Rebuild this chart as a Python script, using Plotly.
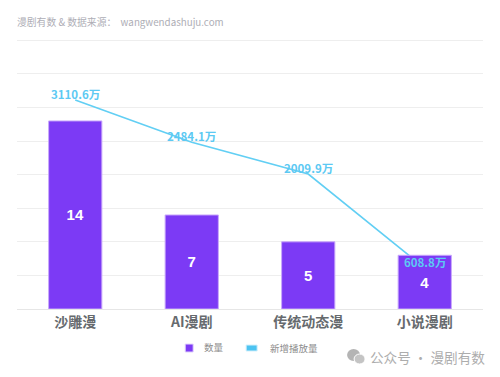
import plotly.graph_objects as go

categories = ["沙雕漫", "AI漫剧", "传统动态漫", "小说漫剧"]
counts = [14, 7, 5, 4]
plays = [3110.6, 2484.1, 2009.9, 608.8]
play_labels = ["3110.6万", "2484.1万", "2009.9万", "608.8万"]
count_name = "数量"
play_name = "新增播放量"
source_text = "漫剧有数 &amp; 数据来源：  wangwendashuju.com"
watermark = "公众号 · 漫剧有数"

W, H = 500, 377
ML, MR, MT, MB = 16.7, 17, 39.2, 68
CJK = "Noto Sans CJK SC"
PURPLE = "#7c3af5"
BLUE = "#62cff4"


def px(x):
    return (x - ML) / (W - ML - MR)


def py(y):
    return 1 - (y - MT) / (H - MT - MB)


fig = go.Figure()
fig.add_trace(go.Scatter(x=categories, y=plays, mode="lines", yaxis="y",
                         line=dict(color=BLUE, width=1.6), name=play_name,
                         showlegend=False, hoverinfo="skip"))
fig.add_trace(go.Bar(x=categories, y=counts, yaxis="y2", name=count_name,
                     marker=dict(color=PURPLE, line=dict(color="#c9a8fb", width=1)),
                     text=counts, textposition="inside", insidetextanchor="middle",
                     textangle=0, constraintext="none",
                     textfont=dict(color="white", size=15, family="Liberation Sans", weight=700),
                     showlegend=False, hoverinfo="skip"))

annotations = []
for c, p, label in zip(categories, plays, play_labels):
    annotations.append(dict(x=c, y=p, xref="x", yref="y", text=label, showarrow=False,
                            yshift=6, font=dict(color="#5cc9f3", size=11.5, family=CJK, weight=700)))


def note(x, y, text, size, color, anchor="left", weight=400):
    annotations.append(dict(x=px(x), y=py(y), xref="paper", yref="paper", text=text,
                            showarrow=False, xanchor=anchor, yanchor="middle",
                            font=dict(size=size, color=color, family=CJK, weight=weight)))


note(15, 22, source_text, 9.8, "#aeaeb6")
note(202, 347, count_name, 9.5, "#8c8c8c")
note(268, 348, play_name, 9.5, "#8c8c8c")
note(368, 357, watermark, 13.6, "#adadad")

shapes = [
    dict(type="rect", xref="paper", yref="paper", x0=px(185), x1=px(193), y0=py(352), y1=py(344),
         fillcolor=PURPLE, line=dict(color="#e4d8fb", width=1)),
    dict(type="rect", xref="paper", yref="paper", x0=px(246), x1=px(257), y0=py(351), y1=py(345),
         fillcolor="#4cc3f1", line=dict(color="#d4f0fb", width=1)),
    dict(type="circle", xref="paper", yref="paper", x0=px(347), x1=px(360), y0=py(361), y1=py(349),
         fillcolor="#b4b4b4", line=dict(width=0)),
    dict(type="circle", xref="paper", yref="paper", x0=px(354), x1=px(365), y0=py(364), y1=py(354),
         fillcolor="#c4c4c4", line=dict(color="white", width=1)),
]

fig.update_layout(
    width=W, height=H, margin=dict(l=ML, r=MR, t=MT, b=MB),
    paper_bgcolor="white", plot_bgcolor="white", bargap=0.543, showlegend=False,
    xaxis=dict(type="category", showgrid=False, showline=False, zeroline=False,
               ticks="", ticklabelstandoff=3,
               tickfont=dict(size=14, color="#666a6e", family=CJK, weight=700)),
    yaxis=dict(range=[0, 4020], dtick=500, showticklabels=False, showgrid=True,
               gridcolor="#eeeeee", gridwidth=1, zeroline=True, zerolinecolor="#e6e6e6",
               zerolinewidth=1, showline=False),
    yaxis2=dict(range=[0, 20.1], overlaying="y", side="right", showticklabels=False,
                showgrid=False, zeroline=False, showline=False),
    annotations=annotations, shapes=shapes,
)
fig.write_html("out.html", config={"displayModeBar": False},
               post_script="document.body.style.margin='0';")
